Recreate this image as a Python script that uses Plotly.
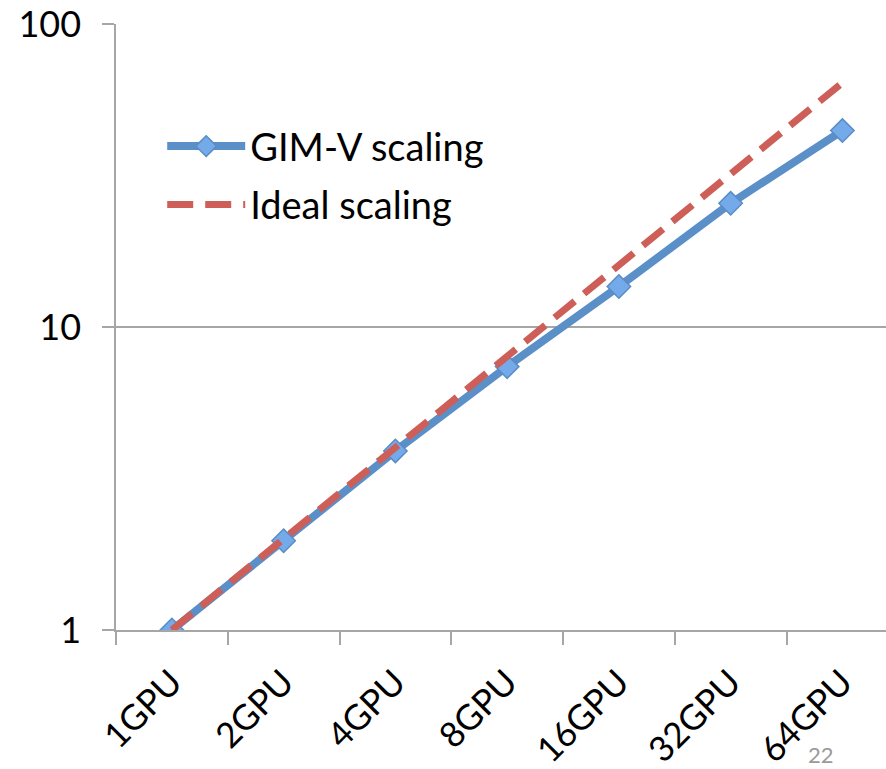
import plotly.graph_objects as go

categories = ["1GPU", "2GPU", "4GPU", "8GPU", "16GPU", "32GPU", "64GPU"]
gimv_scaling = [1.0, 1.97, 3.9, 7.4, 13.6, 25.6, 44.5]
ideal_scaling = [1, 2, 4, 8, 16, 32, 64]
y_tick_vals = [1, 10, 100]
y_tick_text = ["1", "10", "100"]

FONT = "Lato"

fig = go.Figure()
fig.add_trace(go.Scatter(
    x=categories, y=gimv_scaling, name="GIM-V scaling",
    mode="lines+markers", legendgroup="a",
    line=dict(color="#5A8FC8", width=8),
    marker=dict(symbol="diamond", size=18, color="#74AAEA",
                line=dict(color="#5A8CC4", width=1.5)),
))
fig.add_trace(go.Scatter(
    x=categories, y=ideal_scaling, name="Ideal scaling",
    mode="lines", legendgroup="b",
    line=dict(color="#CD5F58", width=7, dash="26px,12px"),
))

fig.add_annotation(text="22", xref="paper", yref="paper", x=0.915, y=-0.205,
                   showarrow=False, font=dict(family=FONT, size=22, color="#9a9a9a"),
                   xanchor="center", yanchor="middle")

fig.update_layout(
    width=886, height=769,
    margin=dict(l=116, r=0, t=24, b=139),
    paper_bgcolor="white", plot_bgcolor="white",
    font=dict(family=FONT, size=34, color="black"),
    showlegend=True,
    legend=dict(x=0.06, y=0.85, xanchor="left", yanchor="top",
                bgcolor="rgba(0,0,0,0)", font=dict(family=FONT, size=38),
                itemwidth=78, tracegroupgap=6),
    xaxis=dict(
        type="category", range=[-0.5, 6.39],
        showline=True, linecolor="#A6A6A6", linewidth=1.5,
        ticks="outside", ticklen=13, tickcolor="#A6A6A6", tickwidth=1.5,
        tickson="boundaries", tickangle=-45,
        tickfont=dict(family=FONT, size=35),
        ticklabelstandoff=16,
        showgrid=False, zeroline=False,
    ),
    yaxis=dict(
        type="log", range=[0, 2],
        tickvals=y_tick_vals, ticktext=y_tick_text,
        showline=True, linecolor="#A6A6A6", linewidth=1.5,
        ticks="outside", ticklen=12, tickcolor="#A6A6A6", tickwidth=1.5,
        showgrid=True, gridcolor="#A6A6A6", gridwidth=1.5,
        tickfont=dict(family=FONT, size=36),
        ticklabelstandoff=14,
        zeroline=False,
    ),
)

fig.write_html("out.html")
